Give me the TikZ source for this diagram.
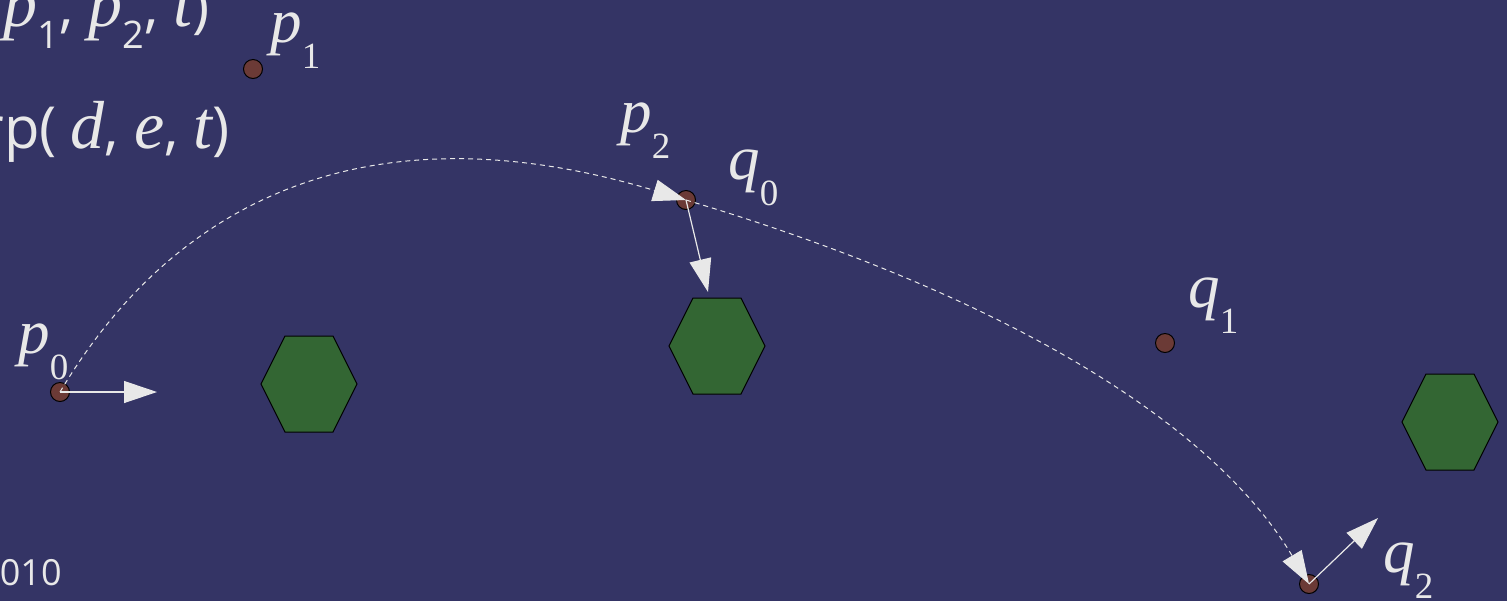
\documentclass[tikz,border=0pt]{standalone}
\usepackage{fontspec}
\setmainfont{Liberation Serif}
\newfontfamily\slidefont{Open Sans}
\usepackage{tikz}
\usetikzlibrary{
  arrows.meta,
  calc,
}
\definecolor{slidebg}{HTML}{343465}
\definecolor{rust}{HTML}{6B3A36}
\definecolor{leaf}{HTML}{336633}
\definecolor{chalk}{HTML}{E8E8E8}
\tikzset{
  >={Triangle[length=16.5pt, width=11pt]},
  dot/.style={circle, draw=black, fill=rust, line width=0.5pt,
    minimum size=9.5pt, inner sep=0pt},
  vec/.style={draw=chalk, line width=0.6pt, ->},
  trail/.style={draw=chalk, line width=0.5pt, dash pattern=on 2.5pt off 2pt, ->},
  lbl/.style={anchor=base west, inner sep=0pt, text=chalk,
    font=\fontsize{31.5}{32}\selectfont\itshape},
  slide/.style={anchor=base east, inner sep=0pt, text=chalk,
    font=\slidefont\fontsize{29}{30}\selectfont},
  pics/hexa/.style={
    code={
      \filldraw[fill=leaf, draw=black, line width=0.5pt]
        (-24,-48) -- (24,-48) -- (48,0) -- (24,48) -- (-24,48) -- (-48,0) -- cycle;
    }
  },
}
\newcommand{\lsub}[1]{\raisebox{-13pt}{\fontsize{18.5}{19}\selectfont\upshape #1}}
\newcommand{\ssub}[1]{\raisebox{-11pt}{\fontsize{19}{20}\selectfont\upshape #1}}
\newcommand{\mi}[1]{{\rmfamily\itshape\fontsize{34}{35}\selectfont #1}}

\begin{document}
\begin{tikzpicture}[x=0.5pt, y=-0.5pt]
  \useasboundingbox (0,0) rectangle (1507,601);
  \clip (0,0) rectangle (1507,601);
  \fill[slidebg] (0,0) rectangle (1507,601);

  % slide text, cut at the edge
  \node[slide] (call) at (210,26) {\mi{p}\ssub{1}, \mi{p}\ssub{2}, \mi{t})};
  \node[slide] (lerp) at (230,148) {rp(\hspace{7pt}\mi{d}, \mi{e}, \mi{t})};
  \node[slide, font=\slidefont\fontsize{18}{19}\selectfont] (year) at (62,585) {010};

  % obstacles
  \pic at (309,384) {hexa};
  \pic at (717,346) {hexa};
  \pic at (1450,422) {hexa};

  % control points
  \node[dot] (p0) at (60,392) {};
  \node[dot] (p1) at (253,69) {};
  \node[dot] (p2) at (686,200) {};
  \node[dot] (q1) at (1165,343) {};
  \node[dot] (q2) at (1309,584) {};

  \node[lbl] (lp0) at (18,353) {p\lsub{0}};
  \node[lbl] (lp1) at (270,42) {p\lsub{1}};
  \node[lbl] (lp2) at (620,132) {p\lsub{2}};
  \node[lbl] (lq0) at (728,179) {q\lsub{0}};
  \node[lbl] (lq1) at (1188,307) {q\lsub{1}};
  \node[lbl] (lq2) at (1383,572) {q\lsub{2}};

  % two quadratic pieces
  \draw[trail] (p0.center)
    .. controls ($(p0.center)!0.6667!(p1.center)$) and ($(p2.center)!0.6667!(p1.center)$) .. (p2.center);
  \draw[trail] (p2.center)
    .. controls ($(p2.center)!0.6667!(q1.center)$) and ($(q2.center)!0.6667!(q1.center)$) .. (q2.center);

  % velocities
  \coordinate (v0) at (157,392);
  \coordinate (v1) at (708,292);
  \coordinate (v2) at (1378,518);
  \draw[vec] (p0.center) -- (v0);
  \draw[vec] (p2.center) -- (v1);
  \draw[vec] (q2.center) -- (v2);
\end{tikzpicture}
\end{document}
